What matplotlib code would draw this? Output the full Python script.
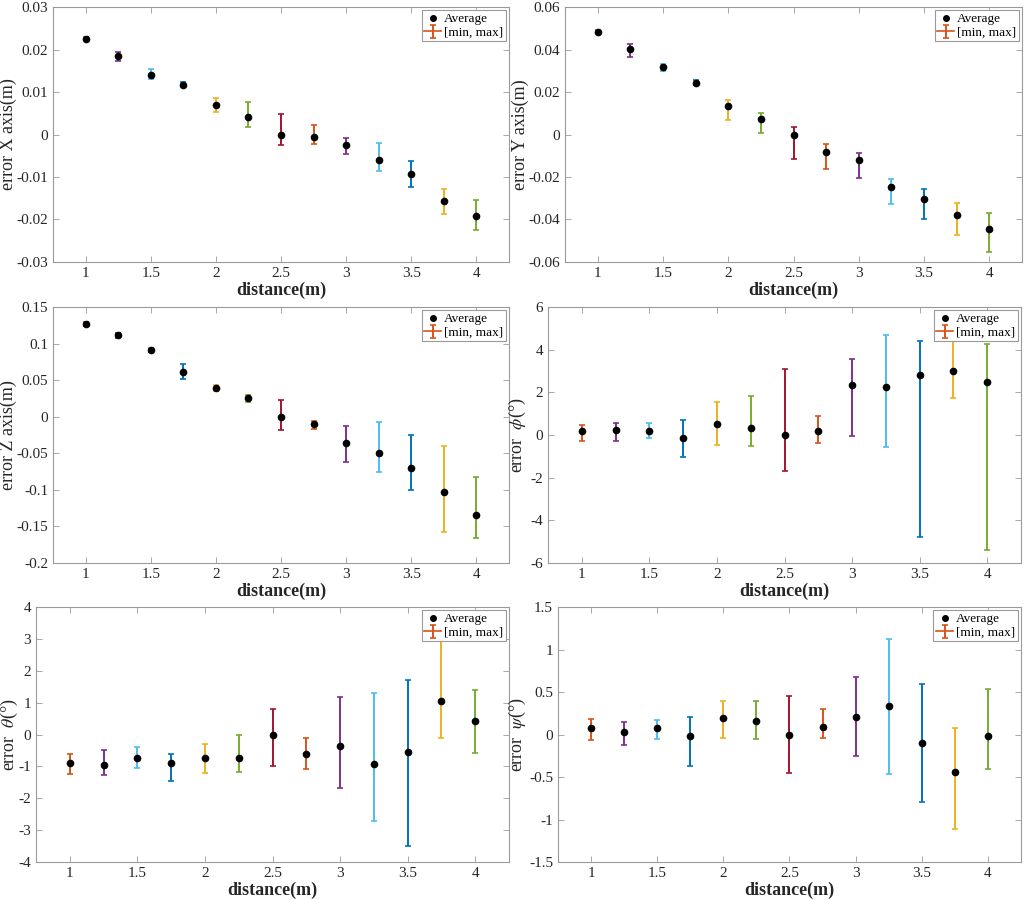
import matplotlib.pyplot as plt
from matplotlib.lines import Line2D

plt.rcParams['font.family'] = ['Liberation Serif', 'DejaVu Serif']
plt.rcParams['mathtext.fontset'] = 'stix'

# distances (m)
distance = [1, 1.25, 1.5, 1.75, 2, 2.25, 2.5, 2.75, 3, 3.25, 3.5, 3.75, 4]

# X axis error (m)
x_avg = [0.0225, 0.0185, 0.0141, 0.0117, 0.0070, 0.0041, 0.0, -0.0005, -0.0024, -0.0060, -0.0092, -0.0157, -0.0192]
x_min = [0.0222, 0.0174, 0.0130, 0.0113, 0.0054, 0.0018, -0.0025, -0.0023, -0.0047, -0.0085, -0.0123, -0.0188, -0.0225]
x_max = [0.0229, 0.0194, 0.0153, 0.0124, 0.0086, 0.0077, 0.0049, 0.0023, -0.0008, -0.0020, -0.0063, -0.0128, -0.0153]

# Y axis error (m)
y_avg = [0.0484, 0.0404, 0.0316, 0.0244, 0.0135, 0.0072, 0.0, -0.0081, -0.0122, -0.0246, -0.0302, -0.0380, -0.0443]
y_min = [0.0474, 0.0365, 0.0297, 0.0235, 0.0066, 0.0005, -0.0116, -0.0161, -0.0203, -0.0326, -0.0397, -0.0474, -0.0554]
y_max = [0.0493, 0.0427, 0.0330, 0.0257, 0.0164, 0.0102, 0.0033, -0.0047, -0.0089, -0.0210, -0.0257, -0.0324, -0.0369]

# Z axis error (m)
z_avg = [0.1269, 0.1118, 0.0913, 0.0616, 0.0392, 0.0251, 0.0, -0.0100, -0.0365, -0.0493, -0.0703, -0.1022, -0.1346]
z_min = [0.1246, 0.1077, 0.0885, 0.0516, 0.0356, 0.0205, -0.0178, -0.0169, -0.0612, -0.0749, -0.1000, -0.1570, -0.1652]
z_max = [0.1296, 0.1146, 0.0945, 0.0717, 0.0438, 0.0292, 0.0233, -0.0055, -0.0128, -0.0073, -0.0246, -0.0406, -0.0822]

# phi error (deg)
phi_avg = [0.19, 0.22, 0.19, -0.16, 0.50, 0.31, 0.0, 0.19, 2.36, 2.23, 2.81, 2.98, 2.50]
phi_min = [-0.30, -0.28, -0.14, -1.05, -0.47, -0.53, -1.70, -0.39, -0.03, -0.58, -4.78, 1.72, -5.41]
phi_max = [0.47, 0.55, 0.56, 0.69, 1.53, 1.83, 3.11, 0.89, 3.58, 4.70, 4.42, 4.70, 4.28]

# theta error (deg)
theta_avg = [-0.90, -0.96, -0.75, -0.90, -0.75, -0.73, 0.0, -0.60, -0.375, -0.94, -0.54, 1.05, 0.43]
theta_min = [-1.25, -1.26, -1.04, -1.46, -1.22, -1.17, -0.99, -1.07, -1.67, -2.70, -3.51, -0.115, -0.59]
theta_max = [-0.60, -0.49, -0.385, -0.625, -0.31, 0.0, 0.80, -0.10, 1.17, 1.30, 1.70, 3.30, 1.40]

# psi error (deg)
psi_avg = [0.074, 0.027, 0.078, -0.016, 0.20, 0.156, 0.0, 0.09, 0.21, 0.34, -0.105, -0.4375, -0.016]
psi_min = [-0.0625, -0.12, -0.05, -0.367, -0.039, -0.055, -0.453, -0.043, -0.254, -0.46, -0.797, -1.113, -0.41]
psi_max = [0.18, 0.145, 0.176, 0.21, 0.398, 0.395, 0.457, 0.305, 0.68, 1.12, 0.60, 0.082, 0.54]

# matlab-ish colour cycle used per distance
bar_colors = ['#D95319', '#7E2F8E', '#4DBEEE', '#0072BD', '#EDB120', '#77AC30', '#A2142F',
              '#D95319', '#7E2F8E', '#4DBEEE', '#0072BD', '#EDB120', '#77AC30']

panels = [
    # rect, label x, avg, lo, hi, ylabel, ylim, yticks, ticklabels
    ([0.0518, 0.7089, 0.4453, 0.2833], -0.079, x_avg, x_min, x_max, 'error X axis(m)', (-0.03, 0.03),
     [-0.03, -0.02, -0.01, 0, 0.01, 0.02, 0.03], ['-0.03', '-0.02', '-0.01', '0', '0.01', '0.02', '0.03']),
    ([0.5518, 0.7089, 0.4463, 0.2833], -0.079, y_avg, y_min, y_max, 'error Y axis(m)', (-0.06, 0.06),
     [-0.06, -0.04, -0.02, 0, 0.02, 0.04, 0.06], ['-0.06', '-0.04', '-0.02', '0', '0.02', '0.04', '0.06']),
    ([0.0518, 0.3744, 0.4453, 0.2844], -0.079, z_avg, z_min, z_max, 'error Z axis(m)', (-0.2, 0.15),
     [-0.2, -0.15, -0.1, -0.05, 0, 0.05, 0.1, 0.15], ['-0.2', '-0.15', '-0.1', '-0.05', '0', '0.05', '0.1', '0.15']),
    ([0.5352, 0.3744, 0.4619, 0.2844], -0.042, phi_avg, phi_min, phi_max, r'error  $\phi$(°)', (-6, 6),
     [-6, -4, -2, 0, 2, 4, 6], ['-6', '-4', '-2', '0', '2', '4', '6']),
    ([0.0352, 0.0422, 0.4619, 0.2833], -0.033, theta_avg, theta_min, theta_max, r'error  $\theta$(°)', (-4, 4),
     [-4, -3, -2, -1, 0, 1, 2, 3, 4], ['-4', '-3', '-2', '-1', '0', '1', '2', '3', '4']),
    ([0.5449, 0.0422, 0.4521, 0.2833], -0.065, psi_avg, psi_min, psi_max, r'error  $\psi$(°)', (-1.5, 1.5),
     [-1.5, -1, -0.5, 0, 0.5, 1, 1.5], ['-1.5', '-1', '-0.5', '0', '0.5', '1', '1.5']),
]

fig = plt.figure(figsize=(10.24, 9), dpi=100)
spine_gray = '#9a9a9a'
text_gray = '#262626'

for rect, lab_x, avg, lo, hi, ylabel, ylim, yticks, ylabels in panels:
    ax = fig.add_axes(rect)
    first_bar = None
    for d, a, l, h, c in zip(distance, avg, lo, hi, bar_colors):
        eb = ax.errorbar(d, a, yerr=[[a - l], [h - a]], fmt='none', ecolor=c,
                         elinewidth=1.4, capsize=2, capthick=1.2, zorder=2)
        if first_bar is None:
            first_bar = eb
    ax.plot(distance, avg, 'o', color='k', markersize=4.5, zorder=3)

    ax.set_xlim(0.75, 4.25)
    ax.set_ylim(*ylim)
    ax.set_xticks([1, 1.5, 2, 2.5, 3, 3.5, 4])
    ax.set_xticklabels(['1', '1.5', '2', '2.5', '3', '3.5', '4'])
    ax.set_yticks(yticks)
    ax.set_yticklabels(ylabels)
    ax.tick_params(direction='in', top=True, right=True, length=4, width=0.6,
                   color=spine_gray, labelcolor=text_gray, labelsize=11)
    for s in ax.spines.values():
        s.set_color(spine_gray)
        s.set_linewidth(0.8)

    ax.set_xlabel('distance(m)', fontsize=13, fontweight='bold', color=text_gray, labelpad=1)
    ax.set_ylabel(ylabel, fontsize=13, color=text_gray)
    ax.yaxis.set_label_coords(lab_x, 0.5)

    dot_handle = Line2D([], [], marker='o', color='k', linestyle='none', markersize=4)
    hline = Line2D([], [], color=bar_colors[0], linewidth=1.2)
    leg = ax.legend([dot_handle, (hline, first_bar)], ['Average', '[min, max]'], loc='upper right',
                    fontsize=9.5, fancybox=False, framealpha=1, edgecolor=spine_gray,
                    borderaxespad=0.25, handlelength=1.3, handletextpad=0.2,
                    borderpad=0.2, labelspacing=0.1)
    leg.get_frame().set_linewidth(0.8)
    leg.set_zorder(5)

fig.savefig('out.png', dpi=100)
